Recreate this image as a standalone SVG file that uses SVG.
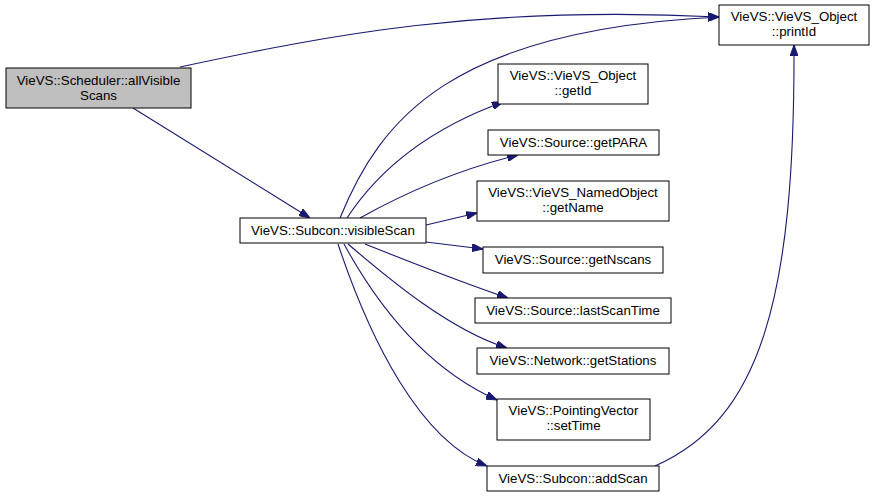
<svg xmlns="http://www.w3.org/2000/svg" width="875" height="497" viewBox="0 0 875 497">
<style>
.n rect{fill:#ffffff;stroke:#000000;stroke-width:1}
.n.root rect{fill:#bfbfbf}
text{font-family:"Liberation Sans",Arial,sans-serif;font-size:13.3px;fill:#000;text-anchor:middle}
.e path{fill:none;stroke:#191970;stroke-width:1.1;marker-end:url(#ah)}
</style>
<defs>
<marker id="ah" viewBox="0 0 11 8" refX="11" refY="4" markerWidth="11" markerHeight="8" markerUnits="userSpaceOnUse" orient="auto">
<path d="M0,0 L11,4 L0,8 z" fill="#191970" stroke="#191970"/>
</marker>
</defs>
<rect width="875" height="497" fill="#ffffff"/>
<g id="edges" class="e">
<path d="M180,67 C330,35 480,5 719,17"/>
<path d="M133,108 L310,218"/>
<path d="M340,218 C380,120 450,30 719,17"/>
<path d="M347,218 C385,160 440,125 503,102"/>
<path d="M360,218 C410,190 465,168 518,155"/>
<path d="M426,225 L477,213"/>
<path d="M426,242 L483,249"/>
<path d="M365,244 C410,262 460,282 508,298"/>
<path d="M348,244 C390,280 450,330 507,348"/>
<path d="M344,244 C380,310 430,370 497,400"/>
<path d="M338,244 C370,340 420,440 487,466"/>
<path d="M655,466 C760,420 795,300 794,45"/>
</g>
<g id="allVisibleScans" class="n root"><rect x="6" y="68" width="185" height="40"/><text x="98.5" y="85">VieVS::Scheduler::allVisible</text><text x="98.5" y="100">Scans</text></g>
<g id="visibleScan" class="n"><rect x="240" y="218" width="186" height="25"/><text x="333" y="235">VieVS::Subcon::visibleScan</text></g>
<g id="printId" class="n"><rect x="719" y="5" width="150" height="40"/><text x="794" y="21">VieVS::VieVS_Object</text><text x="794" y="36">::printId</text></g>
<g id="getId" class="n"><rect x="498" y="64" width="150" height="40"/><text x="573" y="80">VieVS::VieVS_Object</text><text x="573" y="95">::getId</text></g>
<g id="getPARA" class="n"><rect x="488" y="130" width="171" height="25"/><text x="573.5" y="147">VieVS::Source::getPARA</text></g>
<g id="getName" class="n"><rect x="477" y="181" width="192" height="40"/><text x="573" y="197">VieVS::VieVS_NamedObject</text><text x="573" y="212">::getName</text></g>
<g id="getNscans" class="n"><rect x="483" y="247" width="180" height="26"/><text x="573" y="264">VieVS::Source::getNscans</text></g>
<g id="lastScanTime" class="n"><rect x="475" y="298" width="196" height="25"/><text x="573" y="315">VieVS::Source::lastScanTime</text></g>
<g id="getStations" class="n"><rect x="477" y="348" width="192" height="26"/><text x="573" y="365">VieVS::Network::getStations</text></g>
<g id="setTime" class="n"><rect x="497" y="399" width="153" height="41"/><text x="573.5" y="415">VieVS::PointingVector</text><text x="573.5" y="430">::setTime</text></g>
<g id="addScan" class="n"><rect x="487" y="466" width="172" height="25"/><text x="573" y="483">VieVS::Subcon::addScan</text></g>
</svg>
